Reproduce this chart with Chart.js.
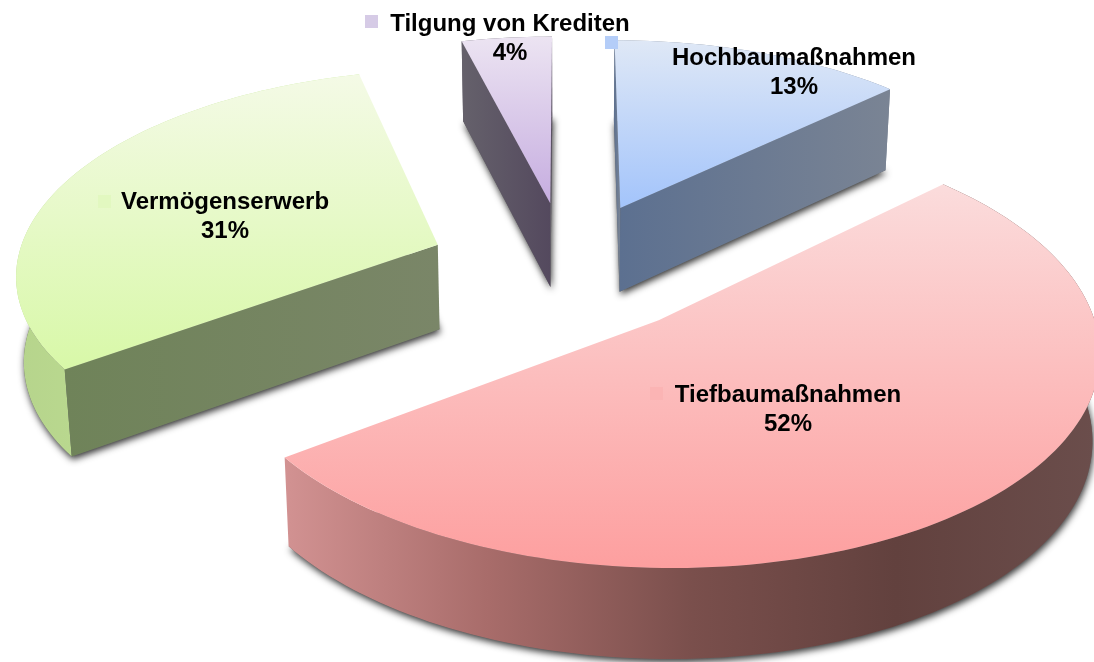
<!DOCTYPE html>
<html lang="de">
<head>
<meta charset="utf-8">
<title>Investitionen</title>
<script src="https://cdn.jsdelivr.net/npm/chart.js@4"></script>
<style>
  html, body { margin: 0; background: #fff; }
  #wrap { width: 1094px; height: 662px; }
</style>
</head>
<body>
<div id="wrap"><canvas id="pie"></canvas></div>
<script>
// --- data, clockwise from 12 o'clock ---
const categories = ['Hochbaumaßnahmen', 'Tiefbaumaßnahmen', 'Vermögenserwerb', 'Tilgung von Krediten'];
const shares = [13, 52, 31, 4];
const shareLabels = ['13%', '52%', '31%', '4%'];

// --- look of each slice ---
const faceTop = ['#dfe8f6', '#fbdcdc', '#f4fae6', '#ece4f2'];
const faceBottom = ['#a3c4fb', '#fd9f9f', '#d8f8a8', '#c6ade0'];
const sideFrom = ['#5c7090', '#a86c6a', '#6f8359', '#65616b'];
const sideTo = ['#7a8494', '#a86c6a', '#7a8668', '#54495e'];
const rimStops = [
  ['#7a8494', '#7a8494'],
  ['#d29292', '#a86c6a', '#7a4f4c', '#62413e', '#6b4e4c'],
  ['#b6d48c', '#c8ec9c'],
  ['#65616b', '#65616b'],
];
const keyColors = ['#b4cdf8', '#fbb4b4', '#e2f8c0', '#d6cbe6'];
// label centre x, first line y, key x, key y
const labelPlaces = [
  [794, 58, 605, 36],
  [788, 395, 650, 387],
  [225, 202, 98, 195],
  [510, 24, 365, 15],
];
const drawOrder = [3, 0, 2, 1]; // far to near

// camera: fitted by eye against the picture, tilted plane with a horizon far above
const CAM = { cx: 567, focal: 422, horizon: -1352, span: 1619, k: 0.125, depth: 85, squeeze: 0.014 };

function project(nx, ny, down) {
  const w = 1 - CAM.k * ny;
  const x = CAM.cx + CAM.focal * nx / w;
  const y = CAM.horizon + CAM.span / w;
  if (!down) return [x, y];
  return [CAM.cx + (x - CAM.cx) * (1 - CAM.squeeze), y + CAM.depth / Math.pow(w, 0.4)];
}

// outline of one arc element on the unit plane: apex, then the rim
function sliceOutline(arc) {
  const { startAngle, endAngle, outerRadius } = arc;
  const mid = (startAngle + endAngle) / 2;
  const off = arc.options.offset / outerRadius;
  const ax = Math.cos(mid) * off, ay = Math.sin(mid) * off;
  const rim = [];
  const steps = Math.ceil((endAngle - startAngle) * 40);
  for (let i = 0; i <= steps; i++) {
    const a = startAngle + (endAngle - startAngle) * i / steps;
    rim.push([ax + Math.cos(a), ay + Math.sin(a)]);
  }
  return { apex: [ax, ay], rim };
}

function tracePoly(ctx, pts) {
  ctx.beginPath();
  pts.forEach((p, i) => (i ? ctx.lineTo(p[0], p[1]) : ctx.moveTo(p[0], p[1])));
  ctx.closePath();
}

function sideGradient(ctx, pts, stops) {
  const xs = pts.map((p) => p[0]);
  const g = ctx.createLinearGradient(Math.min(...xs), 0, Math.max(...xs), 0);
  stops.forEach((c, i) => g.addColorStop(i / (stops.length - 1), c));
  return g;
}

// a straight wall shows only when the face lies above its top edge
function wallFacesViewer(apex, end, inner) {
  const ex = end[0] - apex[0], ey = end[1] - apex[1];
  return ex * (inner[1] - apex[1]) - ey * (inner[0] - apex[0]) < 0 === ex > 0;
}

function drawSlice(ctx, arc, i) {
  const { apex, rim } = sliceOutline(arc);
  const plane = [apex, ...rim];
  const top = plane.map((p) => project(p[0], p[1], false));
  const bottom = plane.map((p) => project(p[0], p[1], true));

  // soft shadow comes from the underside only
  ctx.save();
  ctx.shadowColor = 'rgba(0,0,0,0.8)';
  ctx.shadowBlur = 7;
  ctx.shadowOffsetX = 1;
  ctx.shadowOffsetY = 3;
  ctx.fillStyle = '#666';
  tracePoly(ctx, bottom);
  ctx.fill();
  ctx.restore();

  // rim first: on the far slices it has to end up behind the straight walls
  const rimWall = [...top.slice(1), ...bottom.slice(1).reverse()];
  ctx.fillStyle = sideGradient(ctx, rimWall, rimStops[i]);
  tracePoly(ctx, rimWall);
  ctx.fill();

  const last = top.length - 1;
  const inner = top[Math.floor(last / 2)];
  [1, last].forEach((k) => {
    if (!wallFacesViewer(top[0], top[k], inner)) return;
    const wall = [top[0], top[k], bottom[k], bottom[0]];
    ctx.fillStyle = sideGradient(ctx, wall, [sideFrom[i], sideTo[i]]);
    tracePoly(ctx, wall);
    ctx.fill();
  });

  const ys = top.map((p) => p[1]);
  const g = ctx.createLinearGradient(0, Math.min(...ys), 0, Math.max(...ys));
  g.addColorStop(0, faceTop[i]);
  g.addColorStop(1, faceBottom[i]);
  ctx.fillStyle = g;
  tracePoly(ctx, top);
  ctx.fill();
}

const pie3d = {
  id: 'pie3d',
  // the arcs keep their geometry from the doughnut controller, only the painting is projected
  beforeDatasetDraw(chart) {
    const arcs = chart.getDatasetMeta(0).data;
    drawOrder.forEach((i) => drawSlice(chart.ctx, arcs[i], i));
    return false;
  },
  afterDraw(chart) {
    const ctx = chart.ctx;
    ctx.save();
    ctx.font = 'bold 24px "Liberation Sans", Arial, sans-serif';
    ctx.textAlign = 'center';
    ctx.textBaseline = 'middle';
    categories.forEach((name, i) => {
      const [lx, ly, kx, ky] = labelPlaces[i];
      ctx.fillStyle = keyColors[i];
      ctx.fillRect(kx, ky, 13, 13);
      ctx.fillStyle = '#000';
      ctx.fillText(name, lx, ly);
      ctx.fillText(shareLabels[i], lx, ly + 29);
    });
    ctx.restore();
  },
};

new Chart(document.getElementById('pie'), {
  type: 'pie',
  data: {
    labels: categories,
    datasets: [{ data: shares, offset: 99, borderWidth: 0, backgroundColor: keyColors }],
  },
  options: {
    responsive: true,
    maintainAspectRatio: false,
    animation: false,
    radius: 300,
    layout: { padding: 0 },
    plugins: { legend: { display: false }, tooltip: { enabled: false } },
  },
  plugins: [pie3d],
});
</script>
</body>
</html>
